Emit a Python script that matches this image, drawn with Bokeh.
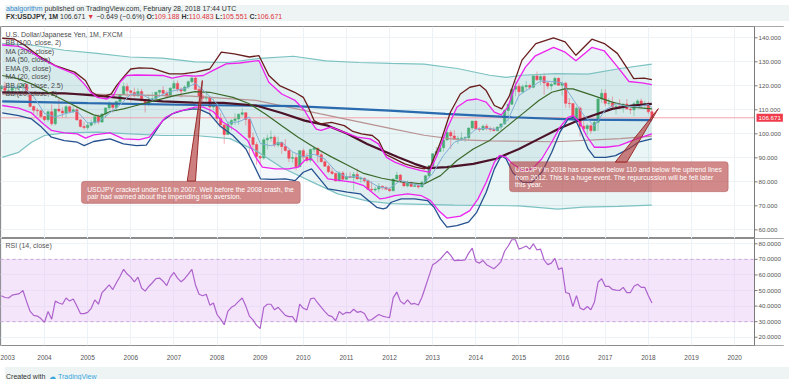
from bokeh.plotting import figure
from bokeh.models import (Range1d, FixedTicker, Span, Label,
                          BoxAnnotation, Div, ColumnDataSource)
from bokeh.layouts import column
from bokeh.embed import file_html
from bokeh.resources import INLINE

# ------------------------------------------------------------------ data
FIRST_YEAR = 2003
first_open = 118.7
closes = [
    119.9, 118.1, 118.1, 119.0, 119.3, 119.8, 120.5, 116.9, 111.4, 109.8, 109.6, 107.2,
    105.9, 109.2, 104.2, 110.3, 109.5, 108.7, 111.3, 109.3, 110.0, 105.8, 103.1, 102.6,
    103.6, 104.6, 107.1, 104.9, 108.3, 110.8, 112.4, 111.0, 113.5, 116.4, 119.7, 117.9,
    117.2, 115.8, 117.6, 113.8, 112.5, 114.4, 114.6, 117.3, 118.1, 116.9, 115.7, 119.0,
    121.0, 118.6, 117.8, 119.5, 121.7, 123.2, 118.5, 115.8, 114.8, 115.3, 111.2, 111.7,
    106.4, 103.7, 99.7, 104.0, 105.5, 106.2, 108.1, 108.8, 106.0, 98.5, 95.5, 90.6,
    89.9, 97.5, 98.2, 98.6, 95.3, 96.4, 94.7, 93.1, 89.8, 90.1, 86.3, 93.0,
    90.3, 89.0, 93.5, 94.0, 91.3, 88.4, 86.5, 84.2, 83.5, 80.4, 83.7, 81.1,
    82.1, 81.8, 83.1, 81.2, 81.5, 80.5, 76.9, 76.6, 77.0, 78.2, 77.6, 76.9,
    76.3, 81.2, 82.8, 80.0, 78.3, 79.8, 78.1, 78.4, 77.9, 79.8, 82.5, 86.7,
    91.7, 92.6, 94.2, 97.4, 100.5, 99.1, 97.9, 98.1, 98.3, 98.4, 102.4, 105.3,
    102.0, 101.8, 103.2, 102.2, 101.8, 101.3, 102.8, 104.1, 109.7, 112.3, 118.6, 119.8,
    117.5, 119.6, 120.1, 119.4, 124.1, 122.5, 123.9, 121.2, 119.9, 120.6, 123.1, 120.2,
    121.1, 112.7, 112.6, 106.4, 110.7, 103.2, 102.1, 103.4, 101.3, 104.8, 114.5, 116.9,
    112.7, 112.8, 111.4, 111.5, 110.8, 112.4, 110.3, 110.0, 112.5, 113.7, 112.5, 112.7,
    109.188, 106.671]
highs = [
    120.3, 121.6, 121.4, 120.6, 119.3, 120.6, 120.9, 120.6, 117.4, 111.8, 110.8, 110.0,
    107.4, 109.7, 112.2, 110.4, 114.9, 111.0, 112.0, 111.8, 111.5, 111.7, 106.1, 105.0,
    104.8, 106.0, 107.8, 108.1, 108.6, 111.0, 113.7, 112.6, 113.6, 116.5, 121.4, 121.0,
    118.0, 119.2, 119.0, 118.7, 114.6, 116.5, 117.4, 117.5, 118.3, 119.9, 118.0, 119.4,
    122.2, 122.2, 119.4, 120.2, 122.2, 124.1, 123.7, 119.8, 117.0, 117.9, 115.5, 114.7,
    111.9, 108.6, 104.0, 105.2, 106.1, 108.6, 108.6, 110.7, 108.9, 106.1, 100.5, 96.6,
    91.1, 98.5, 99.7, 101.4, 99.4, 98.9, 96.7, 97.8, 93.4, 92.3, 91.8, 93.1,
    93.8, 92.1, 93.8, 94.9, 94.2, 92.4, 88.9, 87.2, 86.0, 83.9, 84.4, 84.5,
    83.6, 84.0, 84.2, 85.5, 82.2, 81.7, 81.0, 80.2, 77.9, 79.5, 78.3, 78.3,
    77.5, 81.2, 84.2, 83.3, 80.6, 80.6, 79.9, 79.7, 79.2, 80.4, 82.8, 86.8,
    91.7, 94.5, 96.7, 99.9, 103.7, 101.5, 101.5, 99.2, 100.6, 99.0, 102.6, 105.4,
    105.4, 102.8, 103.8, 104.1, 103.0, 102.8, 103.2, 104.5, 110.1, 112.5, 119.0, 121.9,
    121.0, 120.5, 122.0, 120.8, 124.5, 125.9, 124.6, 125.3, 121.8, 121.5, 123.8, 123.6,
    121.7, 121.7, 114.9, 112.7, 111.4, 111.4, 107.5, 104.3, 104.1, 105.5, 114.8, 118.7,
    118.6, 114.9, 115.5, 112.2, 114.4, 112.5, 114.5, 111.0, 113.3, 114.5, 114.7, 113.8,
    113.4, 110.483]
lows = [
    117.4, 116.9, 115.9, 118.0, 115.6, 116.8, 117.0, 116.6, 110.9, 107.9, 107.6, 106.8,
    105.2, 104.9, 103.4, 103.5, 108.9, 106.8, 106.6, 108.6, 108.6, 105.6, 102.6, 101.8,
    101.7, 103.0, 103.7, 104.0, 104.5, 106.6, 109.9, 108.9, 109.3, 113.0, 116.2, 115.0,
    113.4, 115.4, 115.5, 113.6, 108.9, 111.4, 113.5, 113.9, 115.3, 116.6, 115.4, 115.1,
    118.5, 117.5, 115.1, 117.5, 118.7, 121.0, 118.5, 111.6, 113.4, 113.8, 107.2, 109.9,
    104.9, 103.5, 95.8, 99.6, 101.5, 103.7, 103.8, 107.2, 103.5, 90.9, 93.2, 87.1,
    87.1, 89.2, 93.5, 96.6, 94.4, 94.4, 91.7, 92.6, 88.2, 88.0, 84.8, 86.2,
    88.9, 88.1, 88.1, 92.4, 88.1, 88.1, 86.2, 83.6, 82.9, 80.2, 80.2, 80.8,
    81.1, 81.6, 76.3, 81.1, 79.6, 79.6, 76.9, 75.9, 75.9, 75.6, 76.6, 76.9,
    75.9, 76.1, 80.9, 79.8, 78.0, 77.7, 77.9, 78.0, 77.1, 77.9, 79.5, 81.7,
    86.5, 90.8, 92.4, 92.6, 97.3, 93.8, 97.6, 95.8, 97.0, 96.6, 97.6, 101.6,
    101.8, 100.8, 101.2, 101.4, 100.8, 101.1, 101.1, 101.5, 103.8, 105.2, 112.0, 115.6,
    115.8, 116.9, 118.3, 118.5, 118.9, 122.0, 120.4, 116.2, 118.6, 118.1, 120.3, 120.1,
    115.9, 110.9, 110.7, 105.6, 106.2, 98.9, 100.7, 99.5, 100.1, 101.1, 101.2, 112.9,
    111.6, 111.6, 110.1, 108.1, 110.2, 108.8, 110.6, 108.3, 107.3, 111.6, 110.8, 110.9,
    108.3, 105.551]
rsi_values = [
    46.6, 45.5, 45.2, 47.0, 47.5, 48.0, 50.0, 43.0, 36.6, 34.0, 33.6, 32.0,
    29.6, 36.6, 31.6, 43.2, 42.0, 41.2, 45.2, 43.2, 44.6, 40.0, 35.2, 35.2,
    36.0, 38.6, 44.0, 41.2, 48.6, 51.0, 53.6, 50.6, 55.0, 59.0, 63.6, 60.6,
    58.6, 55.6, 58.6, 51.6, 49.6, 52.6, 55.0, 57.6, 58.0, 56.0, 53.2, 58.6,
    61.6, 58.0, 55.6, 57.6, 60.5, 63.6, 53.6, 47.6, 46.6, 47.6, 40.6, 42.0,
    34.6, 31.6, 28.0, 36.6, 39.2, 40.6, 43.0, 45.2, 40.0, 33.6, 31.2, 27.6,
    25.6, 39.2, 41.2, 41.2, 37.6, 39.2, 36.6, 34.0, 33.2, 33.2, 29.6, 41.2,
    38.6, 37.6, 44.6, 45.2, 42.0, 39.2, 36.5, 34.0, 33.2, 30.6, 36.6, 34.6,
    36.0, 35.6, 38.0, 36.0, 36.6, 35.2, 31.0, 31.2, 33.0, 34.6, 33.6, 33.0,
    32.6, 45.3, 49.0, 43.2, 41.3, 44.0, 41.3, 41.7, 40.7, 45.7, 52.6, 59.6,
    66.6, 68.0, 70.0, 72.5, 75.2, 72.6, 69.2, 69.3, 69.4, 69.6, 74.0, 77.2,
    68.6, 67.6, 69.2, 66.6, 65.3, 64.0, 66.0, 68.6, 75.2, 78.6, 82.6, 82.6,
    76.6, 77.5, 78.6, 76.6, 80.0, 76.0, 76.6, 69.6, 66.6, 67.6, 70.6, 63.6,
    64.6, 48.7, 48.0, 39.7, 46.7, 38.7, 37.7, 39.7, 37.7, 42.7, 55.3, 57.6,
    52.7, 52.7, 50.7, 50.3, 50.0, 52.0, 48.7, 48.7, 52.7, 54.0, 52.0, 52.0,
    46.7, 42.0]

price_ticks = [60, 70, 80, 90, 100, 110, 120, 130, 140]
rsi_ticks = [20, 30, 40, 50, 60, 70, 80]
year_ticks = list(range(2003, 2021))
last_price = 106.671

# indicator lines (time in years, value)
bb100_up_t = [2003.02, 2003.7, 2004.46, 2005.22, 2005.97, 2006.74, 2007.49, 2008.25, 2009.0, 2009.77,
              2010.52, 2011.29, 2012.04, 2012.8, 2013.57, 2014.32, 2014.7, 2015.08, 2015.84, 2016.6,
              2017.35, 2018.08]
bb100_up_v = [137.6, 137.0, 134.8, 133.5, 132.0, 131.5, 130.0, 129.7, 131.4, 132.3,
              130.4, 129.7, 129.3, 129.0, 127.2, 124.4, 123.5, 124.4, 125.1, 124.9,
              127.2, 129.0]
bb100_lo_t = [2003.02, 2003.4, 2003.7, 2004.0, 2004.46, 2005.22, 2005.98, 2006.74, 2007.49, 2008.3,
              2008.9, 2009.5, 2010.2, 2010.8, 2011.5, 2012.04, 2013.5, 2015.0, 2015.9, 2016.5,
              2017.3, 2018.08]
bb100_lo_v = [90.2, 92.3, 96.5, 99.3, 100.4, 100.7, 100.0, 99.3, 99.3, 98.0,
              93.0, 86.0, 80.0, 75.0, 72.0, 70.9, 70.3, 70.0, 68.6, 69.5,
              69.8, 70.3]
ma100_t = [2003.02, 2005.0, 2007.4, 2008.9, 2010.4, 2012.04, 2012.8, 2013.57, 2014.32, 2015.84, 2017.35, 2018.08]
ma100_v = [116.5, 116.5, 115.7, 113.9, 108.3, 102.2, 99.4, 97.6, 97.1, 96.7, 98.0, 99.0]
ma200_t = [2003.02, 2005.0, 2007.5, 2009.8, 2012.0, 2013.3, 2014.85, 2016.37, 2018.08]
ma200_v = [113.5, 112.8, 112.0, 111.5, 109.7, 108.3, 106.9, 105.9, 105.7]
ma50_t = [2003.02, 2004.46, 2005.22, 2005.98, 2006.74, 2007.45, 2008.14, 2008.9, 2009.5, 2010.03,
          2010.57, 2011.02, 2011.48, 2011.9, 2012.2, 2012.58, 2012.88, 2013.33, 2013.94, 2014.47,
          2015.0, 2015.46, 2015.91, 2016.3, 2016.71, 2017.16, 2017.62, 2018.08]
ma50_v = [117.3, 116.9, 115.9, 114.5, 113.5, 113.0, 112.9, 111.8, 108.7, 105.5,
          103.4, 100.0, 95.8, 92.5, 90.2, 87.5, 85.7, 86.1, 87.5, 89.6,
          93.7, 97.9, 102.0, 105.0, 107.6, 110.4, 111.8, 112.5]
bb20w_up_t = [2003.02, 2003.3, 2003.55, 2003.85, 2004.25, 2004.7, 2004.95, 2005.1, 2005.25, 2005.4,
              2005.55, 2005.67, 2005.83, 2006.0, 2006.2, 2006.5, 2006.9, 2007.2, 2007.5, 2007.83,
              2008.1, 2008.4, 2008.75, 2008.97, 2009.2, 2009.45, 2009.8, 2010.0, 2010.12, 2010.25,
              2010.4, 2010.65, 2010.95, 2011.15, 2011.35, 2011.6, 2011.75, 2011.9, 2012.05, 2012.35,
              2012.6, 2012.8, 2012.95, 2013.18, 2013.41, 2013.64, 2013.86, 2014.09, 2014.24, 2014.43,
              2014.6, 2014.77, 2015.07, 2015.39, 2015.8, 2016.07, 2016.32, 2016.69, 2016.98, 2017.28,
              2017.51, 2017.66, 2017.9, 2018.08]
bb20w_up_v = [139.8, 139.5, 136.8, 132.6, 128.4, 125.7, 122.2, 117.3, 115.7, 115.7,
              116.6, 120.1, 123.6, 127.0, 127.5, 127.3, 125.0, 125.0, 125.7, 127.0,
              134.0, 133.3, 132.0, 132.6, 124.3, 120.1, 117.3, 115.2, 111.0, 105.5,
              104.1, 104.8, 103.4, 101.0, 100.0, 99.3, 97.1, 91.5, 90.2, 87.5,
              86.1, 85.4, 86.5, 96.5, 109.0, 116.6, 119.4, 120.3, 118.0, 111.8,
              110.4, 115.5, 130.7, 137.6, 140.0, 138.3, 132.7, 139.4, 137.6, 133.5,
              127.3, 123.0, 123.2, 122.6]
bb20w_lo_t = [2003.02, 2003.4, 2003.7, 2003.93, 2004.16, 2004.46, 2004.76, 2004.92, 2005.14, 2005.52,
              2005.83, 2006.13, 2006.36, 2006.51, 2006.74, 2006.96, 2007.19, 2007.45, 2007.6, 2007.83,
              2008.06, 2008.37, 2008.67, 2008.86, 2009.01, 2009.28, 2009.58, 2009.81, 2010.0, 2010.19,
              2010.38, 2010.57, 2010.79, 2011.02, 2011.32, 2011.51, 2011.7, 2011.85, 2011.93, 2012.04,
              2012.27, 2012.58, 2012.88, 2013.03, 2013.18, 2013.33, 2013.56, 2013.83, 2014.02, 2014.24,
              2014.43, 2014.59, 2014.7, 2014.85, 2015.08, 2015.31, 2015.53, 2015.76, 2015.95, 2016.14,
              2016.28, 2016.41, 2016.6, 2016.75, 2017.01, 2017.24, 2017.54, 2017.77, 2018.08]
bb20w_lo_v = [108.7, 107.6, 106.2, 102.8, 98.6, 97.2, 96.5, 95.1, 96.8, 97.9,
              95.8, 95.1, 95.3, 99.3, 105.5, 108.3, 109.7, 110.4, 110.2, 108.3,
              103.4, 99.3, 93.7, 86.8, 81.2, 81.0, 81.2, 80.5, 84.0, 85.4,
              81.2, 77.1, 76.4, 75.7, 75.0, 72.2, 69.4, 68.7, 69.2, 71.5,
              72.9, 72.9, 72.2, 69.4, 64.6, 61.1, 61.8, 63.2, 67.3, 75.7,
              85.4, 91.0, 89.6, 84.0, 79.8, 79.8, 84.0, 92.3, 100.7, 106.2,
              107.0, 102.0, 93.7, 90.2, 90.2, 90.9, 93.7, 96.5, 97.9]
bb20_up_t = [2003.02, 2003.4, 2003.7, 2003.93, 2004.31, 2004.69, 2004.92, 2005.07, 2005.22, 2005.45,
             2005.6, 2005.75, 2005.9, 2006.13, 2006.74, 2006.96, 2007.27, 2007.49, 2007.68, 2007.91,
             2008.21, 2008.52, 2008.97, 2009.2, 2009.5, 2009.81, 2010.03, 2010.19, 2010.3, 2010.41,
             2010.64, 2010.94, 2011.25, 2011.55, 2011.74, 2011.93, 2012.12, 2012.42, 2012.73, 2012.92,
             2013.1, 2013.33, 2013.56, 2013.79, 2014.02, 2014.24, 2014.43, 2014.59, 2014.74, 2014.93,
             2015.15, 2015.38, 2015.8, 2016.07, 2016.32, 2016.69, 2016.98, 2017.28, 2017.55, 2017.85,
             2018.08]
bb20_up_v = [137.0, 136.4, 134.0, 131.2, 127.8, 125.0, 120.8, 117.3, 115.2, 114.5,
             116.0, 121.5, 124.3, 124.5, 124.3, 123.2, 124.3, 124.0, 124.3, 126.4,
             129.1, 129.5, 130.5, 121.5, 116.6, 113.9, 109.7, 104.8, 102.0, 101.4,
             102.8, 100.7, 98.6, 97.9, 95.8, 90.2, 88.2, 86.1, 84.7, 84.0,
             91.0, 102.0, 111.1, 113.9, 114.5, 113.2, 109.0, 107.9, 111.1, 120.8,
             127.8, 132.5, 136.0, 134.0, 130.4, 136.0, 134.5, 128.0, 121.8, 121.2,
             120.5]
bb20_lo_t = [2003.02, 2003.4, 2003.7, 2003.93, 2004.16, 2004.46, 2004.76, 2004.95, 2005.14, 2005.52,
             2005.83, 2006.2, 2006.43, 2006.58, 2006.81, 2007.04, 2007.34, 2007.49, 2007.68, 2007.91,
             2008.14, 2008.44, 2008.71, 2008.9, 2009.05, 2009.35, 2009.66, 2009.88, 2010.03, 2010.19,
             2010.38, 2010.57, 2010.87, 2011.17, 2011.4, 2011.59, 2011.78, 2011.9, 2012.12, 2012.42,
             2012.73, 2012.95, 2013.14, 2013.33, 2013.64, 2013.86, 2014.05, 2014.24, 2014.43, 2014.55,
             2014.7, 2014.85, 2015.08, 2015.31, 2015.53, 2015.76, 2015.95, 2016.14, 2016.25, 2016.41,
             2016.56, 2016.75, 2017.01, 2017.32, 2017.62, 2017.85, 2018.08]
bb20_lo_v = [111.8, 110.7, 108.7, 104.8, 101.4, 100.4, 100.0, 98.2, 99.6, 100.4,
             97.9, 97.6, 98.6, 102.0, 106.9, 109.0, 110.4, 111.1, 111.1, 109.3,
             104.8, 101.4, 97.2, 90.2, 86.1, 85.4, 85.4, 86.1, 88.9, 89.6,
             85.4, 81.2, 80.5, 79.8, 78.4, 75.7, 72.9, 73.2, 74.3, 75.0,
             74.3, 72.2, 68.0, 64.9, 65.7, 68.0, 72.9, 79.8, 88.2, 91.0,
             90.3, 87.5, 84.7, 85.4, 89.6, 96.5, 102.8, 106.9, 107.6, 104.8,
             99.3, 94.4, 94.4, 95.1, 97.2, 98.6, 100.0]
ma20_t = [2003.02, 2003.4, 2003.7, 2004.08, 2004.46, 2004.84, 2005.14, 2005.29, 2005.52, 2005.83,
          2006.13, 2006.58, 2007.04, 2007.49, 2007.83, 2008.37, 2008.75, 2009.12, 2009.5, 2009.88,
          2010.26, 2010.64, 2011.02, 2011.4, 2011.82, 2012.27, 2012.8, 2013.18, 2013.56, 2013.94,
          2014.32, 2014.7, 2015.08, 2015.46, 2015.76, 2016.06, 2016.25, 2016.71, 2017.16, 2017.62,
          2018.08]
ma20_v = [124.3, 122.9, 120.8, 117.3, 113.9, 110.4, 107.9, 107.3, 109.3, 110.4,
          111.8, 113.9, 116.0, 117.6, 117.3, 115.2, 112.5, 108.3, 103.4, 98.6,
          94.3, 90.5, 87.0, 83.5, 81.5, 80.0, 79.1, 82.6, 88.9, 93.7,
          97.2, 102.8, 108.3, 113.9, 117.3, 118.7, 118.7, 116.0, 113.2, 111.1,
          110.4]
ema9_t = [2003.0, 2003.5, 2003.75, 2004.0, 2004.25, 2004.5, 2004.75, 2005.0, 2005.25, 2005.5,
          2005.75, 2006.0, 2006.25, 2006.5, 2006.75, 2007.0, 2007.25, 2007.5, 2007.75, 2008.0,
          2008.25, 2008.5, 2008.75, 2009.0, 2009.25, 2009.5, 2009.75, 2010.0, 2010.25, 2010.5,
          2010.75, 2011.0, 2011.25, 2011.5, 2011.75, 2012.0, 2012.25, 2012.5, 2012.75, 2013.0,
          2013.25, 2013.5, 2013.75, 2014.0, 2014.25, 2014.5, 2014.75, 2015.0, 2015.25, 2015.5,
          2015.75, 2016.0, 2016.25, 2016.5, 2016.75, 2017.0, 2017.25, 2017.5, 2017.75, 2018.0,
          2018.08]
ema9_v = [119.5, 119.3, 115.5, 108.5, 107.0, 108.5, 109.5, 104.5, 105.0, 108.5,
          112.0, 116.5, 116.5, 114.0, 116.5, 118.0, 118.8, 121.0, 117.0, 112.5,
          104.5, 105.0, 107.0, 96.0, 95.0, 96.5, 92.5, 90.5, 91.5, 89.5,
          84.5, 82.0, 82.3, 80.5, 77.8, 77.3, 80.5, 79.2, 78.5, 83.5,
          91.0, 96.5, 98.0, 102.0, 102.3, 101.8, 106.0, 116.0, 119.0, 122.0,
          121.8, 121.3, 114.5, 107.8, 103.2, 110.0, 112.5, 111.5, 111.2, 112.2,
          111.0]

legend_items = ["U.S. Dollar/Japanese Yen, 1M, FXCM", "BB (100, close, 2)", "MA (200, close)",
                "MA (50, close)", "EMA (9, close)", "MA (20, close)", "BB (20, close, 2.5)",
                "BB (20, close, 2)"]
note_2007 = ["USDJPY cracked under 116 in 2007. Well before the 2008 crash, the",
             "pair had warned about the impending risk aversion."]
note_2018 = ["USDJPY in 2018 has cracked below 110 and below the uptrend lines",
             "from 2012. This is a huge event. The repurcussion will be felt later",
             "this year."]

# ------------------------------------------------------------------ layout constants
W = 784
SCALE_W = 30                      # width of the right-hand price scale, px
FONT = "Liberation Sans"
X0, X1 = 2002.98, 2020.46         # visible time span of the chart area
YPP = (X1 - X0) / (W - SCALE_W)   # years per pixel
XE = X0 + W * YPP                 # frame also covers the price-scale strip
UP, DOWN = "#47ad74", "#ef4a5c"

n = len(closes)
t = [FIRST_YEAR + i / 12 for i in range(n)]
opens = [first_open] + closes[:-1]
is_up = [c >= o for o, c in zip(opens, closes)]
cols = [UP if u else DOWN for u in is_up]
src = ColumnDataSource(dict(t=t, o=opens, c=closes, h=highs, l=lows, col=cols,
                            top=[max(o, c) for o, c in zip(opens, closes)],
                            bot=[min(o, c) for o, c in zip(opens, closes)]))


def price_scale(p, y0, y1, ticks, fmt):
    """White strip at the right with an axis line, ticks and labels."""
    p.quad(left=X1, right=XE, bottom=y0, top=y1, fill_color="white", line_color=None)
    p.add_layout(Span(location=X1, dimension="height", line_color="#7a7a7a", line_width=1))
    p.segment(x0=[X1] * len(ticks), x1=[X1 + 3 * YPP] * len(ticks), y0=ticks, y1=ticks,
              line_color="#7a7a7a", line_width=1)
    for v in ticks:
        p.add_layout(Label(x=X1 + 4 * YPP, y=v, text=fmt.format(v),
                           text_font=FONT, text_font_size="6.2px", text_color="#555555",
                           text_baseline="middle"))


def base_figure(h, yr, with_xaxis):
    p = figure(width=W, height=h, x_range=Range1d(X0, XE), y_range=yr,
               output_backend="svg", toolbar_location=None, y_axis_location=None,
               x_axis_location="below" if with_xaxis else None,
               min_border_left=0, min_border_right=0, min_border_top=0, min_border_bottom=0)
    p.background_fill_color = "white"
    p.border_fill_color = "white"
    p.outline_line_color = "#8c8c8c"
    p.xgrid.ticker = FixedTicker(ticks=year_ticks)
    p.xgrid.grid_line_color = "#edf2f6"
    p.ygrid.grid_line_color = "#edf2f6"
    return p


# ------------------------------------------------------------------ main pane
Y0, Y1 = 56.4, 144.7
p1 = base_figure(212, Range1d(Y0, Y1), False)
p1.ygrid.ticker = FixedTicker(ticks=price_ticks)

# fills
p1.patch(bb100_up_t + bb100_lo_t[::-1], bb100_up_v + bb100_lo_v[::-1],
         fill_color="#1a8c8c", fill_alpha=0.09, line_color=None)
p1.patch(bb20w_up_t + bb20w_lo_t[::-1], bb20w_up_v + bb20w_lo_v[::-1],
         fill_color="#3a8fb0", fill_alpha=0.05, line_color=None)
p1.patch(bb20_up_t + bb20_lo_t[::-1], bb20_up_v + bb20_lo_v[::-1],
         fill_color="#1a8c8c", fill_alpha=0.05, line_color=None)

# last price line
p1.segment(x0=[X0], x1=[X1], y0=[last_price], y1=[last_price], line_color="#f6a3ad", line_width=1)

# candles
p1.segment("t", "h", "t", "l", source=src, line_color="col", line_alpha=0.45, line_width=1)
p1.vbar(x="t", top="top", bottom="bot", width=0.055, source=src,
        fill_color="col", line_color="col", line_width=0.5)

# indicator lines
p1.line(bb100_up_t, bb100_up_v, line_color="#7cc2c2", line_width=1.2)
p1.line(bb100_lo_t, bb100_lo_v, line_color="#7cc2c2", line_width=1.2)
p1.line(ma100_t, ma100_v, line_color="#b89292", line_width=1.2)
p1.line(ma200_t, ma200_v, line_color="#2a6aae", line_width=2.2)
p1.line(ma50_t, ma50_v, line_color="#4a1328", line_width=2.2)
p1.line(ma20_t, ma20_v, line_color="#3b6a2a", line_width=1.2)
p1.line(ema9_t, ema9_v, line_color="#7eaed6", line_width=1.0)
p1.line(bb20w_up_t, bb20w_up_v, line_color="#6a1d1d", line_width=1.3)
p1.line(bb20w_lo_t, bb20w_lo_v, line_color="#24508f", line_width=1.3)
p1.line(bb20_up_t, bb20_up_v, line_color="#ee22ee", line_width=1.3)
p1.line(bb20_lo_t, bb20_lo_v, line_color="#ee22ee", line_width=1.3)

# legend texts
leg_y = [141.4, 138.0, 134.3, 131.0, 127.2, 123.9, 120.1, 116.8]
for txt, yy in zip(legend_items, leg_y):
    p1.add_layout(Label(x=X0 + 5 * YPP, y=yy, text=txt, text_font=FONT, text_font_size="7px",
                        text_color="#4a4a4a", text_baseline="middle"))

# callouts
NOTE_FILL, NOTE_LINE = "#b23a3a", "#9a2e2e"
p1.patch([2007.31, 2007.50, 2007.66], [80.3, 80.3, 122.2],
         fill_color=NOTE_FILL, fill_alpha=0.65, line_color=NOTE_LINE, line_width=1)
p1.add_layout(BoxAnnotation(left=2004.855, right=2009.93, bottom=71.0, top=80.2,
                            fill_color=NOTE_FILL, fill_alpha=0.6, line_color=NOTE_LINE,
                            line_width=1, border_radius=3))
for txt, yy in zip(note_2007, [77.0, 73.8]):
    p1.add_layout(Label(x=2004.99, y=yy, text=txt, text_font=FONT, text_font_size="6.8px",
                        text_color="white", text_baseline="middle"))

p1.patch([2017.23, 2017.50, 2018.23], [88.2, 88.2, 110.5],
         fill_color=NOTE_FILL, fill_alpha=0.65, line_color=NOTE_LINE, line_width=1)
p1.add_layout(BoxAnnotation(left=2014.78, right=2019.85, bottom=75.9, top=88.4,
                            fill_color=NOTE_FILL, fill_alpha=0.6, line_color=NOTE_LINE,
                            line_width=1, border_radius=3))
for txt, yy in zip(note_2018, [85.0, 81.9, 78.8]):
    p1.add_layout(Label(x=2014.91, y=yy, text=txt, text_font=FONT, text_font_size="6.8px",
                        text_color="white", text_baseline="middle"))

# right-hand price scale and last-price tag
price_scale(p1, Y0, Y1, price_ticks, "{:.3f}")
p1.add_layout(Label(x=X1 + 2 * YPP, y=last_price, text=f"{last_price:.3f}",
                    text_font=FONT, text_font_size="6.2px", text_color="white",
                    text_baseline="middle", background_fill_color="#ef3b4b",
                    padding=2))

# ------------------------------------------------------------------ RSI pane
R0, R1 = 14.7, 83.4
p2 = base_figure(124, Range1d(R0, R1), True)
p2.ygrid.ticker = FixedTicker(ticks=rsi_ticks)
xa = p2.xaxis[0]
xa.ticker = FixedTicker(ticks=year_ticks)
xa.major_label_text_font_size = "6.5px"
xa.major_label_text_font = FONT
xa.major_label_text_color = "#555555"
xa.axis_line_color = None
xa.major_tick_line_color = None
xa.minor_tick_line_color = None
xa.major_label_standoff = 3

p2.quad(left=X0, right=X1, bottom=30, top=70, fill_color="#e6c6f7", fill_alpha=0.45, line_color=None)
for lvl in (30, 70):
    p2.segment(x0=[X0], x1=[X1], y0=[lvl], y1=[lvl], line_color="#caa3df",
               line_dash="3 3", line_width=1)
p2.line(t, rsi_values, line_color="#ad62cc", line_width=1.2)
p2.add_layout(Label(x=X0 + 5 * YPP, y=78.6, text="RSI (14, close)", text_font=FONT,
                    text_font_size="7px", text_color="#555555", text_baseline="middle"))
price_scale(p2, R0, R1, rsi_ticks, "{:.4f}")

# ------------------------------------------------------------------ header / footer
header_html = (
    '<div style="font-family:\'Liberation Sans\',Arial,sans-serif;font-size:7px;'
    'line-height:8px;color:#333;padding:0 0 0 1px;white-space:nowrap;">'
    '<span style="color:#2f86c9">abalgorithm</span> published on TradingView.com, '
    'February 28, 2018 17:44 UTC<br>'
    '<b>FX:USDJPY, 1M</b> 106.671 <span style="color:#e0323c">&#9660;</span> '
    '&minus;0.649 (&minus;0.6%) <b>O:</b><span style="color:#e0323c">109.188</span> '
    '<b>H:</b><span style="color:#e0323c">110.483</span> '
    '<b>L:</b><span style="color:#e0323c">105.551</span> '
    '<b>C:</b><span style="color:#e0323c">106.671</span></div>')
header = Div(text=header_html, width=W, height=16, styles={"background-color": "#eef4f4"})

footer_html = (
    '<div style="font-family:\'Liberation Sans\',Arial,sans-serif;font-size:7px;'
    'line-height:12px;color:#333;padding-left:1px;white-space:nowrap;">'
    'Created with &nbsp;<span style="color:#3aa7dd">&#9729;</span> '
    '<span style="color:#3aa7dd">TradingView</span></div>')
footer = Div(text=footer_html, width=W, height=12, styles={"background-color": "#eef4f4"})

layout = column(header, p1, p2, footer, spacing=0)
open("out.html", "w").write(file_html(layout, INLINE))
